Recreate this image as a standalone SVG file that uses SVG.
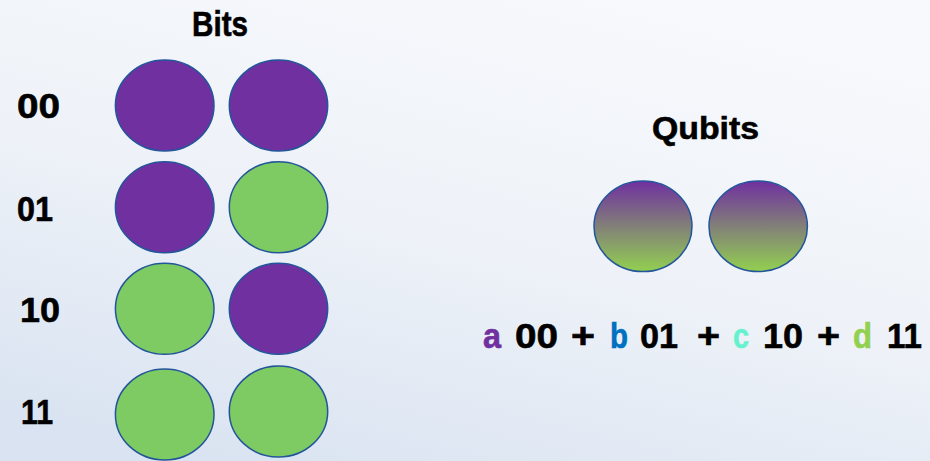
<svg xmlns="http://www.w3.org/2000/svg" width="930" height="461" viewBox="0 0 930 461">
  <defs>
    <linearGradient id="bg" x1="0.7" y1="0" x2="0.2" y2="1">
      <stop offset="0" stop-color="#f7f9fc"/>
      <stop offset="0.5" stop-color="#eef2f8"/>
      <stop offset="1" stop-color="#d9e3f1"/>
    </linearGradient>
    <linearGradient id="qubitFill" x1="0" y1="0" x2="0" y2="1">
      <stop offset="0" stop-color="#7030a0"/>
      <stop offset="0.5" stop-color="#828078"/>
      <stop offset="1" stop-color="#92d050"/>
    </linearGradient>
    <style>
      .bit { stroke: #23559a; stroke-width: 1.5; }
      .one { fill: #7030a0; }
      .zero { fill: #7dcb62; }
      .qubit { fill: url(#qubitFill); stroke: #23559a; stroke-width: 1.5; }
      text { font-family: "Liberation Sans", Arial, sans-serif; font-weight: bold; fill: #000; stroke: #000; stroke-width: 0.6; }
      .lbl { font-size: 35px; }
      .head { font-size: 35px; }
      .qhead { font-size: 32px; }
      .eq { font-size: 35px; }
    </style>
  </defs>

  <rect width="930" height="461" fill="url(#bg)"/>

  <!-- Classical bits -->
  <g id="bits-title"><text class="head" x="192" y="36" textLength="56" lengthAdjust="spacingAndGlyphs">Bits</text></g>

  <g id="row-00">
    <text class="lbl" x="17" y="118" textLength="43" lengthAdjust="spacingAndGlyphs">00</text>
    <ellipse class="bit one" cx="164.7" cy="105.5" rx="49.3" ry="45.5"/>
    <ellipse class="bit one" cx="278.5" cy="105.5" rx="49.2" ry="45.5"/>
  </g>
  <g id="row-01">
    <text class="lbl" x="17" y="221" textLength="36" lengthAdjust="spacingAndGlyphs">01</text>
    <ellipse class="bit one" cx="164.7" cy="207.2" rx="49.3" ry="45.5"/>
    <ellipse class="bit zero" cx="278.5" cy="207.2" rx="49.2" ry="45.5"/>
  </g>
  <g id="row-10">
    <text class="lbl" x="20" y="322" textLength="40" lengthAdjust="spacingAndGlyphs">10</text>
    <ellipse class="bit zero" cx="164.7" cy="308.8" rx="49.3" ry="45.5"/>
    <ellipse class="bit one" cx="278.5" cy="308.8" rx="49.2" ry="45.5"/>
  </g>
  <g id="row-11">
    <text class="lbl" x="21" y="424" textLength="32" lengthAdjust="spacingAndGlyphs">11</text>
    <ellipse class="bit zero" cx="164.7" cy="414.5" rx="49.3" ry="45.5"/>
    <ellipse class="bit zero" cx="278.5" cy="411.5" rx="49.2" ry="45.5"/>
  </g>

  <!-- Quantum bits -->
  <g id="qubits-title"><text class="qhead" x="652" y="139" textLength="107" lengthAdjust="spacingAndGlyphs">Qubits</text></g>
  <g id="qubit-1"><ellipse class="qubit" cx="643" cy="226.3" rx="49" ry="45.3"/></g>
  <g id="qubit-2"><ellipse class="qubit" cx="758.2" cy="226.3" rx="49.2" ry="45.3"/></g>

  <g id="superposition">
    <text class="eq" y="348">
      <tspan x="483" fill="#7030a0" stroke="#7030a0" textLength="18" lengthAdjust="spacingAndGlyphs">a</tspan>
      <tspan x="515" textLength="43" lengthAdjust="spacingAndGlyphs">00</tspan>
      <tspan x="571" textLength="24" lengthAdjust="spacingAndGlyphs">+</tspan>
      <tspan x="610" fill="#0070c0" stroke="#0070c0" textLength="18" lengthAdjust="spacingAndGlyphs">b</tspan>
      <tspan x="640" textLength="38" lengthAdjust="spacingAndGlyphs">01</tspan>
      <tspan x="697" textLength="23" lengthAdjust="spacingAndGlyphs">+</tspan>
      <tspan x="733" fill="#66f2cf" stroke="#66f2cf" textLength="16" lengthAdjust="spacingAndGlyphs">c</tspan>
      <tspan x="763" textLength="40" lengthAdjust="spacingAndGlyphs">10</tspan>
      <tspan x="817" textLength="23" lengthAdjust="spacingAndGlyphs">+</tspan>
      <tspan x="853" fill="#92d050" stroke="#92d050" textLength="19" lengthAdjust="spacingAndGlyphs">d</tspan>
      <tspan x="887" textLength="35" lengthAdjust="spacingAndGlyphs">11</tspan>
    </text>
  </g>
</svg>
